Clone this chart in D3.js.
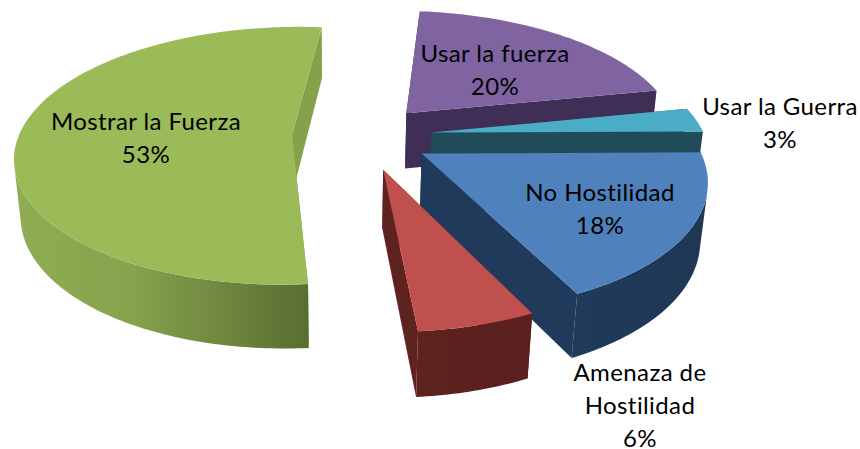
<!DOCTYPE html>
<html><head><meta charset="utf-8">
<script src="https://cdn.jsdelivr.net/npm/d3@7/dist/d3.min.js"></script>
<style>html,body{margin:0;padding:0;background:#fff}svg{display:block}</style>
</head><body><svg id="c" width="860" height="449"></svg>
<script>
const categories = ["Usar la Guerra","No Hostilidad","Amenaza de Hostilidad","Mostrar la Fuerza","Usar la fuerza"];
const values = [3,18.1,5.8,52.8,20.3];
const explodeBy = [72,74,75,68,66];
const nudgeU = [0,-3,2,0,4];
const nudgeV = [2,0,0,0,0];
const radiusOf = [273,273,268,273,273];
const topColors = ["#4bacc6","#4f81bd","#c0504d","#9bbb59","#8064a2"];
const wallColors = ["#1f4c58","#1f3a5a","#5e221f","#84a24a","#3f2e55"];
const rimStops = [
  [["#1f4c58",0],["#1f4c58",1]],
  [["#1f3a5a",0],["#1e3755",1]],
  [["#5e221f",0],["#5a201d",1]],
  [["#8fad54",0],["#86a34d",.4],["#5a6d31",1]],
  [["#3f2e55",0],["#3f2e55",1]]
];
const labelLines = [["Usar la Guerra","3%"],["No Hostilidad","18%"],["Amenaza de","Hostilidad","6%"],["Mostrar la Fuerza","53%"],["Usar la fuerza","20%"]];
const labelAt = [[780,115],[600,201],[640,381],[146,130],[495,62]];

const cx=340,cy=135,D=1482,sinT=.46,cosT=.888,depth=65,c0=[20,0];
const rad=d=>d*Math.PI/180;
const svg=d3.select("#c");
const defs=svg.append("defs");
const pie=d3.pie().sort(null).startAngle(rad(78.7)).endAngle(rad(78.7+360)).value(d=>d);
const arcs=pie(values);
const project=(u,v,h)=>{const s=D/(D-v*cosT-h*sinT);return [cx+s*u,cy+s*(v*sinT-h*cosT)];};
const line=d3.line();
const drawOrder=[4,0,3,1,2];
drawOrder.forEach(i=>{
  const a=arcs[i],mid=(a.startAngle+a.endAngle)/2,R=radiusOf[i];
  const ou=c0[0]+explodeBy[i]*Math.sin(mid)+nudgeU[i],ov=c0[1]-explodeBy[i]*Math.cos(mid)+nudgeV[i];
  const n=Math.max(8,Math.round((a.endAngle-a.startAngle)*60));
  const ang=d3.range(n+1).map(k=>a.startAngle+(a.endAngle-a.startAngle)*k/n);
  const rimP=(t,h)=>project(ou+R*Math.sin(t),ov-R*Math.cos(t),h);
  const faces=t=>{
    const u=ou+R*Math.sin(t),v=ov-R*Math.cos(t);
    return (0-u)*Math.sin(t)+(D*cosT-v)*(-Math.cos(t))>0;
  };
  const apexT=project(ou,ov,0),apexB=project(ou,ov,-depth);
  const g=svg.append("g");
  [a.startAngle,a.endAngle].forEach(t=>{
    g.append("path").attr("d",line([apexT,rimP(t,0),rimP(t,-depth),apexB])+"Z").attr("fill",wallColors[i]);
  });
  const vis=ang.filter(faces);
  const topArc=ang.map(t=>rimP(t,0));
  if(vis.length>1){
    const up=vis.map(t=>rimP(t,0)),down=vis.map(t=>rimP(t,-depth)).reverse();
    const xs=up.map(p=>p[0]);
    const grad=defs.append("linearGradient").attr("id","g"+i).attr("gradientUnits","userSpaceOnUse")
      .attr("x1",d3.min(xs)).attr("x2",d3.max(xs)).attr("y1",0).attr("y2",0);
    rimStops[i].forEach(s=>grad.append("stop").attr("offset",s[1]).attr("stop-color",s[0]));
    g.append("path").attr("d",line(up.concat(down))+"Z").attr("fill","url(#g"+i+")");
  }
  g.append("path").attr("d",line([apexT].concat(topArc))+"Z").attr("fill",topColors[i]);
});
labelLines.forEach((ls,i)=>{
  const t=svg.append("text").attr("text-anchor","middle").attr("font-family","Lato, 'Open Sans', sans-serif").attr("font-size",24).attr("letter-spacing",.4).attr("fill","#000");
  ls.forEach((s,k)=>t.append("tspan").attr("x",labelAt[i][0]).attr("y",labelAt[i][1]+k*33).text(s));
});
</script></body></html>
